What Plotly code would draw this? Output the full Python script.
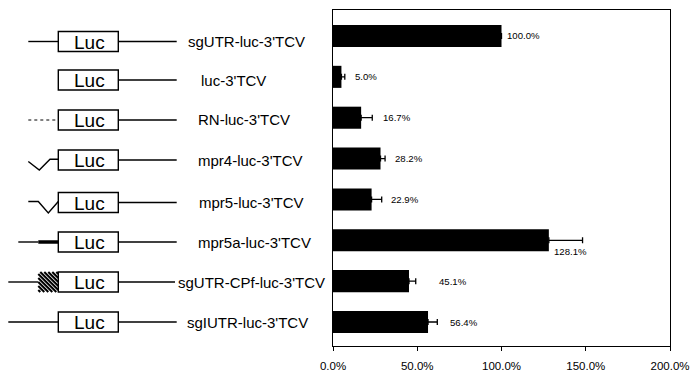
import plotly.graph_objects as go

# ---- data ----
constructs = ["sgUTR-luc-3'TCV", "luc-3'TCV", "RN-luc-3'TCV", "mpr4-luc-3'TCV",
              "mpr5-luc-3'TCV", "mpr5a-luc-3'TCV", "sgUTR-CPf-luc-3'TCV", "sgIUTR-luc-3'TCV"]
activity = [100.0, 5.0, 16.7, 28.2, 22.9, 128.1, 45.1, 56.4]
error_plus = [0.0, 2.0, 6.6, 2.7, 6.0, 20.0, 4.0, 5.5]
tick_values = [0, 50, 100, 150, 200]
tick_labels = ["0.0%", "50.0%", "100.0%", "150.0%", "200.0%"]

# ---- layout helpers (pixel geometry of the page) ----
W, H = 694, 373
PL, PR, PT, PB = 333, 670, 10, 346


def xp(px):
    return (px - PL) / (PR - PL)


def yp(py):
    return (PB - py) / (PB - PT)


FONT = "Arial, Liberation Sans, sans-serif"
idx = list(range(len(constructs)))

fig = go.Figure()
fig.add_trace(go.Bar(
    y=idx, x=activity, orientation="h",
    marker=dict(color="black", line=dict(width=0)),
    width=0.54,
    error_x=dict(type="data", array=error_plus, arrayminus=[0] * len(activity),
                 symmetric=False, color="black", thickness=1.3, width=3),
    hoverinfo="skip", showlegend=False,
))

annotations = []
shapes = []

# value labels next to bars (pixel offsets from bar end)
label_dx = [3.5, 11.3, 19.6, 12.2, 17.4, 2.9, 28.3, 20.3]
label_dy = [0, 0, 0, 0, 0, -11, 0, 0]
for i, v in enumerate(activity):
    annotations.append(dict(
        x=v, y=i, xref="x", yref="y", text=f"{v:.1f}%", showarrow=False,
        xanchor="left", yanchor="middle", xshift=label_dx[i], yshift=label_dy[i],
        font=dict(family=FONT, size=9.6, color="black"),
    ))

# ---- left schematic ----
row_py = [41.5, 80, 120, 160, 202.5, 242, 282, 322]
name_cx = [246, 233, 243.7, 250, 251, 254, 251, 247.5]
left_style = ["line", "none", "dotted", "v1", "v2", "thick", "hatch", "long"]
BX0, BX1, BH = 58.3, 118.3, 20
LW = 1.4


def seg(x0, y0, x1, y1, width=LW, dash="solid"):
    shapes.append(dict(type="line", xref="paper", yref="paper",
                       x0=xp(x0), y0=yp(y0), x1=xp(x1), y1=yp(y1),
                       line=dict(color="black", width=width, dash=dash)))


def path(pts, width=LW):
    d = "M " + " L ".join(f"{xp(a):.5f},{yp(b):.5f}" for a, b in pts)
    shapes.append(dict(type="path", xref="paper", yref="paper", path=d,
                       line=dict(color="black", width=width)))


for i, cy in enumerate(row_py):
    st = left_style[i]
    # left part
    if st == "line":
        seg(28.3, cy, BX0, cy)
    elif st == "dotted":
        seg(28.3, cy, BX0, cy, width=1, dash="dot")
    elif st == "v1":
        path([(28.3, cy + 1.5), (39.3, cy + 10), (50, cy - 0.7), (BX0, cy - 0.7)])
    elif st == "v2":
        path([(28.3, cy - 1), (38.3, cy - 1), (48.3, cy + 10.5), (BX0, cy - 1)])
    elif st == "thick":
        seg(18.3, cy, 38.3, cy)
        seg(38.3, cy, BX0, cy, width=3.5)
    elif st == "hatch":
        seg(8.3, cy, 38.3, cy)
        hx0, top, size = 38.3, cy - BH / 2, 20.0
        for c in [-18, -14, -10, -6, -2, 2, 6, 10, 14, 18]:
            t0, t1 = max(0.0, -c), min(size, size - c)
            if t1 - t0 < 1.5:
                continue
            seg(hx0 + c + t0, top + t0, hx0 + c + t1, top + t1, width=2.0)
    elif st == "long":
        seg(8.3, cy, BX0, cy)
    # right line
    seg(BX1, cy, 175 if st == "hatch" else 176.7, cy)
    # Luc box
    shapes.append(dict(type="rect", xref="paper", yref="paper",
                       x0=xp(BX0), x1=xp(BX1), y0=yp(cy - BH / 2), y1=yp(cy + BH / 2),
                       line=dict(color="black", width=LW), fillcolor="white"))
    annotations.append(dict(x=xp((BX0 + BX1) / 2 + 1), y=yp(cy + 0.5), xref="paper", yref="paper",
                            text="Luc", showarrow=False, xanchor="center", yanchor="middle",
                            font=dict(family=FONT, size=19, color="black")))
    # construct name
    annotations.append(dict(x=xp(name_cx[i]), y=yp(cy), xref="paper", yref="paper",
                            text=constructs[i], showarrow=False, xanchor="center", yanchor="middle",
                            font=dict(family=FONT, size=15, color="black")))

fig.update_layout(
    width=W, height=H,
    margin=dict(l=PL, r=W - PR, t=PT, b=H - PB, autoexpand=False),
    paper_bgcolor="white", plot_bgcolor="white",
    xaxis=dict(range=[0, 200], tickvals=tick_values, ticktext=tick_labels,
               showgrid=False, zeroline=False, showline=True, linecolor="black", linewidth=1.2,
               mirror=True, ticks="outside", ticklen=4, tickcolor="black", tickwidth=1,
               ticklabelstandoff=5, automargin=False,
               tickfont=dict(family=FONT, size=11.5, color="black"), fixedrange=True),
    yaxis=dict(range=[7.587, -0.636], showticklabels=False, showgrid=False, zeroline=False,
               showline=True, linecolor="black", linewidth=1.2, mirror=True, ticks="",
               automargin=False, fixedrange=True),
    annotations=annotations,
    shapes=shapes,
)

fig.write_html("out.html")
